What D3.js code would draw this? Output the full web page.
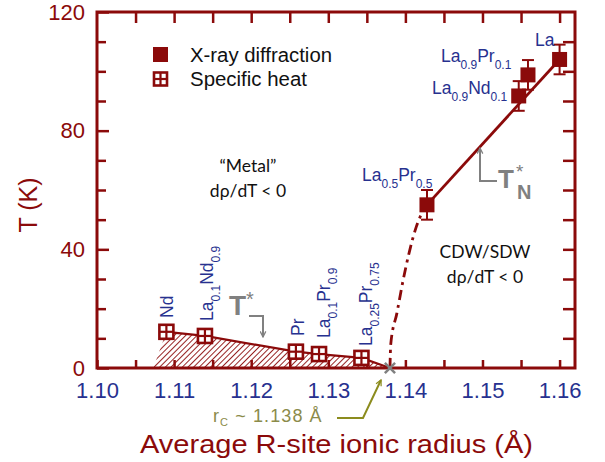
<!DOCTYPE html>
<html>
<head>
<meta charset="utf-8">
<script src="https://cdn.jsdelivr.net/npm/d3@7"></script>
<style>
  body { margin: 0; background: #fff; }
  svg text { font-family: "Liberation Sans", Arial, sans-serif; }
</style>
</head>
<body>
<svg id="chart" width="605" height="462"></svg>
<script>
// X-ray diffraction transition temperatures (filled squares, with error bars)
const xrayRadius = [1.1428, 1.1547, 1.1559, 1.1600];
const xrayT      = [55, 91.7, 98.8, 104];
const xrayErr    = [5, 5, 5, 5];

// Specific-heat anomalies (open crossed squares)
const heatRadius = [1.1090, 1.1140, 1.1258, 1.1288, 1.1343];
const heatT      = [12.2, 10.8, 5.5, 4.7, 3.4];

// Critical radius where both lines meet T = 0
const rc = 1.138;

// Dash-dot onset of the CDW/SDW line, from r_c up to La0.5Pr0.5
const onsetRadius = [1.1380, 1.1381, 1.1389, 1.1397, 1.1405, 1.1414, 1.1421, 1.1428];
const onsetT      = [0, 8, 18.5, 29.5, 39, 47.5, 52, 55];

// Left edge of the hatched T* region
const hatchStart = 1.1073;

// Axis ticks
const xTickLabels = [1.10, 1.11, 1.12, 1.13, 1.14, 1.15, 1.16];
const xMinor      = [1.105, 1.115, 1.125, 1.135, 1.145, 1.155];
const yTickLabels = [0, 40, 80, 120];
const yMinor      = [10, 20, 30, 50, 60, 70, 90, 100, 110];

const RED = "#8b0a0a", BLUE = "#27318f", GRAY = "#808080", OLIVE = "#8b8b4a", OLIVE_LINE = "#8c8c1e";

const svg = d3.select("#chart");
const x = d3.scaleLinear().domain([1.10, 1.162]).range([97, 575]);
const y = d3.scaleLinear().domain([0, 120]).range([368, 12]);

// hatch pattern for the T* region
const defs = svg.append("defs");
const pat = defs.append("pattern").attr("id", "hatch").attr("patternUnits", "userSpaceOnUse")
  .attr("width", 4).attr("height", 4).attr("patternTransform", "rotate(45)");
pat.append("line").attr("x1", 0).attr("y1", 0).attr("x2", 0).attr("y2", 4)
  .attr("stroke", RED).attr("stroke-width", 1.8);

const arrowHead = (id, color) => defs.append("marker").attr("id", id)
  .attr("viewBox", "0 0 10 10").attr("refX", 9).attr("refY", 5)
  .attr("markerWidth", 7).attr("markerHeight", 7).attr("orient", "auto-start-reverse")
  .attr("markerUnits", "userSpaceOnUse")
  .append("path").attr("d", "M1,1 L9,5 L1,9").attr("fill", "none").attr("stroke", color).attr("stroke-width", 1.8);
arrowHead("arrGray", GRAY);
arrowHead("arrOlive", OLIVE_LINE);

// ---- hatched region under T* ----
const hatchPts = [[hatchStart, 0]].concat(heatRadius.map((r, i) => [r, heatT[i]])).concat([[rc, 0]]);
svg.append("path")
  .attr("d", d3.line().x(d => x(d[0])).y(d => y(d[1]))(hatchPts) + "Z")
  .attr("fill", "url(#hatch)").attr("stroke", "none");
const topLine = heatRadius.map((r, i) => [r, heatT[i]]).concat([[rc, 0]]);
svg.append("path")
  .attr("d", d3.line().x(d => x(d[0])).y(d => y(d[1]))(topLine))
  .attr("fill", "none").attr("stroke", RED).attr("stroke-width", 2.2);

// ---- axes ----
svg.append("rect").attr("x", x(1.10)).attr("y", y(120)).attr("width", x(1.162) - x(1.10)).attr("height", y(0) - y(120))
  .attr("fill", "none").attr("stroke", RED).attr("stroke-width", 3);

const axisStyle = g => {
  g.select(".domain").remove();
  g.selectAll(".tick line").attr("stroke", RED).attr("stroke-width", 2.5);
};

// bottom axis: labels and inward ticks
const xb = svg.append("g").attr("transform", `translate(0,${y(0)})`)
  .call(d3.axisBottom(x).tickValues(xTickLabels.concat(xMinor)).tickSize(-8).tickPadding(14)
    .tickFormat(d => xTickLabels.includes(d) ? d3.format(".2f")(d) : ""))
  .call(axisStyle);
xb.selectAll(".tick text").attr("fill", BLUE).attr("font-size", 22).attr("dy", "0.71em");

// top axis: inward ticks only
svg.append("g").attr("transform", `translate(0,${y(120)})`)
  .call(d3.axisTop(x).tickValues(xTickLabels.slice(1).concat(xMinor)).tickSize(-11).tickFormat(""))
  .call(axisStyle);

// left axis
const yl = svg.append("g").attr("transform", `translate(${x(1.10)},0)`)
  .call(d3.axisLeft(y).tickValues(yTickLabels.concat(yMinor)).tickSize(-9).tickPadding(12)
    .tickFormat(d => yTickLabels.includes(d) ? d : ""))
  .call(axisStyle);
yl.selectAll(".tick").filter(d => yTickLabels.includes(d)).select("line").attr("x2", 12);
yl.selectAll(".tick text").attr("fill", RED).attr("font-size", 22);

// right axis
svg.append("g").attr("transform", `translate(${x(1.162)},0)`)
  .call(d3.axisRight(y).tickValues(yMinor.concat([40, 80])).tickSize(-12).tickFormat(""))
  .call(axisStyle);

// ---- axis titles ----
svg.append("text").attr("x", 140).attr("y", 453)
  .attr("font-size", 26).attr("fill", RED)
  .attr("textLength", 393).attr("lengthAdjust", "spacingAndGlyphs")
  .text("Average R-site ionic radius (Å)");
svg.append("text").attr("transform", "translate(37,205) rotate(-90)").attr("text-anchor", "middle")
  .attr("font-size", 25).attr("fill", RED).text("T (K)");

// ---- CDW/SDW line ----
svg.append("path")
  .attr("d", d3.line().curve(d3.curveMonotoneX).x((d, i) => x(onsetRadius[i])).y((d, i) => y(onsetT[i]))(onsetT))
  .attr("fill", "none").attr("stroke", RED).attr("stroke-width", 2.8)
  .attr("stroke-dasharray", "10,5,3,5");
svg.append("line")
  .attr("x1", x(xrayRadius[0])).attr("y1", y(xrayT[0]))
  .attr("x2", x(xrayRadius[3])).attr("y2", y(xrayT[3]))
  .attr("stroke", RED).attr("stroke-width", 2.8);

// ---- error bars + filled squares ----
const xg = svg.append("g");
xrayRadius.forEach((r, i) => {
  const cx = x(r), top = y(xrayT[i] + xrayErr[i]), bot = y(xrayT[i] - xrayErr[i]);
  xg.append("line").attr("x1", cx).attr("x2", cx).attr("y1", top).attr("y2", bot).attr("stroke", RED).attr("stroke-width", 2);
  [top, bot].forEach(v => xg.append("line").attr("x1", cx - 6).attr("x2", cx + 6).attr("y1", v).attr("y2", v)
    .attr("stroke", RED).attr("stroke-width", 2));
  xg.append("rect").attr("x", cx - 7.5).attr("y", y(xrayT[i]) - 7.5).attr("width", 15).attr("height", 15).attr("fill", RED);
});

// ---- open crossed squares ----
function crossedSquare(g, cx, cy, s) {
  g.append("rect").attr("x", cx - s / 2).attr("y", cy - s / 2).attr("width", s).attr("height", s)
    .attr("fill", "#fff").attr("stroke", RED).attr("stroke-width", 2.6);
  g.append("line").attr("x1", cx).attr("x2", cx).attr("y1", cy - s / 2).attr("y2", cy + s / 2).attr("stroke", RED).attr("stroke-width", 2.2);
  g.append("line").attr("x1", cx - s / 2).attr("x2", cx + s / 2).attr("y1", cy).attr("y2", cy).attr("stroke", RED).attr("stroke-width", 2.2);
}
const hg = svg.append("g");
heatRadius.forEach((r, i) => crossedSquare(hg, x(r), y(heatT[i]), 14));

// r_c marker
svg.append("path").attr("d", d3.symbol(d3.symbolX, 70)()).attr("transform", `translate(${x(rc)},${y(0)})`)
  .attr("stroke", GRAY).attr("stroke-width", 2.5).attr("fill", "none");

// ---- legend ----
svg.append("rect").attr("x", 153).attr("y", 47).attr("width", 15).attr("height", 15).attr("fill", RED);
crossedSquare(svg, 160.5, 79, 13);
svg.append("text").attr("x", 190).attr("y", 62).attr("font-size", 19.5).attr("fill", "#111")
  .attr("textLength", 142).attr("lengthAdjust", "spacingAndGlyphs").text("X-ray diffraction");
svg.append("text").attr("x", 190).attr("y", 86).attr("font-size", 19.5).attr("fill", "#111")
  .attr("textLength", 117).attr("lengthAdjust", "spacingAndGlyphs").text("Specific heat");

// ---- compound labels ----
function formula(parts, px, py, rotated) {
  const t = svg.append("text").attr("fill", BLUE).attr("font-size", 17.5)
    .attr("transform", `translate(${px},${py})` + (rotated ? " rotate(-90)" : ""));
  let shift = 0;
  parts.forEach(p => {
    const isSub = p.startsWith("_");
    const target = isSub ? 7 : 0;
    t.append("tspan").attr("dy", target - shift).attr("font-size", isSub ? 12 : 17.5).text(isSub ? p.slice(1) : p);
    shift = target;
  });
}
formula(["La"], 535, 46, false);
formula(["La", "_0.9", "Pr", "_0.1"], 441, 62, false);
formula(["La", "_0.9", "Nd", "_0.1"], 432, 94, false);
formula(["La", "_0.5", "Pr", "_0.5"], 362, 181, false);
formula(["Nd"], 173, 318, true);
formula(["La", "_0.1", "Nd", "_0.9"], 213, 321, true);
formula(["Pr"], 304, 336, true);
formula(["La", "_0.1", "Pr", "_0.9"], 330, 338, true);
formula(["La", "_0.25", "Pr", "_0.75"], 372, 346, true);

// ---- region annotations ----
const note = (txt, px, py) => svg.append("text").attr("x", px).attr("y", py).attr("text-anchor", "middle")
  .attr("font-size", 17.5).attr("fill", "#111").style("font-family", "Lato, 'Open Sans', sans-serif").text(txt);
note("“Metal”", 248, 172);
note("dρ/dT < 0", 248, 197);
note("CDW/SDW", 485, 258);
note("dρ/dT < 0", 485, 283);

// T* and its arrow
const tstar = svg.append("text").attr("x", 229).attr("y", 315).attr("fill", GRAY).attr("font-size", 28).attr("font-weight", "bold");
tstar.append("tspan").text("T");
tstar.append("tspan").attr("font-size", 20).attr("font-weight", "normal").attr("dy", -9).text("*");
svg.append("path").attr("d", "M249,316 H263 V337").attr("fill", "none").attr("stroke", GRAY).attr("stroke-width", 2)
  .attr("marker-end", "url(#arrGray)");

// T*_N and its arrow
svg.append("text").attr("x", 498).attr("y", 188).attr("fill", GRAY).attr("font-size", 26).attr("font-weight", "bold").text("T");
svg.append("text").attr("x", 516).attr("y", 178).attr("fill", GRAY).attr("font-size", 19).text("*");
svg.append("text").attr("x", 517).attr("y", 199).attr("fill", GRAY).attr("font-size", 20).attr("font-weight", "bold").text("N");
svg.append("path").attr("d", "M497,181 H480 V148").attr("fill", "none").attr("stroke", GRAY).attr("stroke-width", 2)
  .attr("marker-end", "url(#arrGray)");

// r_c label and arrow
const rcText = svg.append("text").attr("x", 213).attr("y", 422).attr("fill", OLIVE).attr("font-size", 18)
  .attr("letter-spacing", 1.1);
rcText.append("tspan").text("r");
rcText.append("tspan").attr("font-size", 11).attr("dy", 4).text("C");
rcText.append("tspan").attr("dy", -4).text(" ~ 1.138 Å");
svg.append("path").attr("d", "M337,418 H363 L381,380").attr("fill", "none").attr("stroke", OLIVE_LINE).attr("stroke-width", 2)
  .attr("marker-end", "url(#arrOlive)");
</script>
</body>
</html>
